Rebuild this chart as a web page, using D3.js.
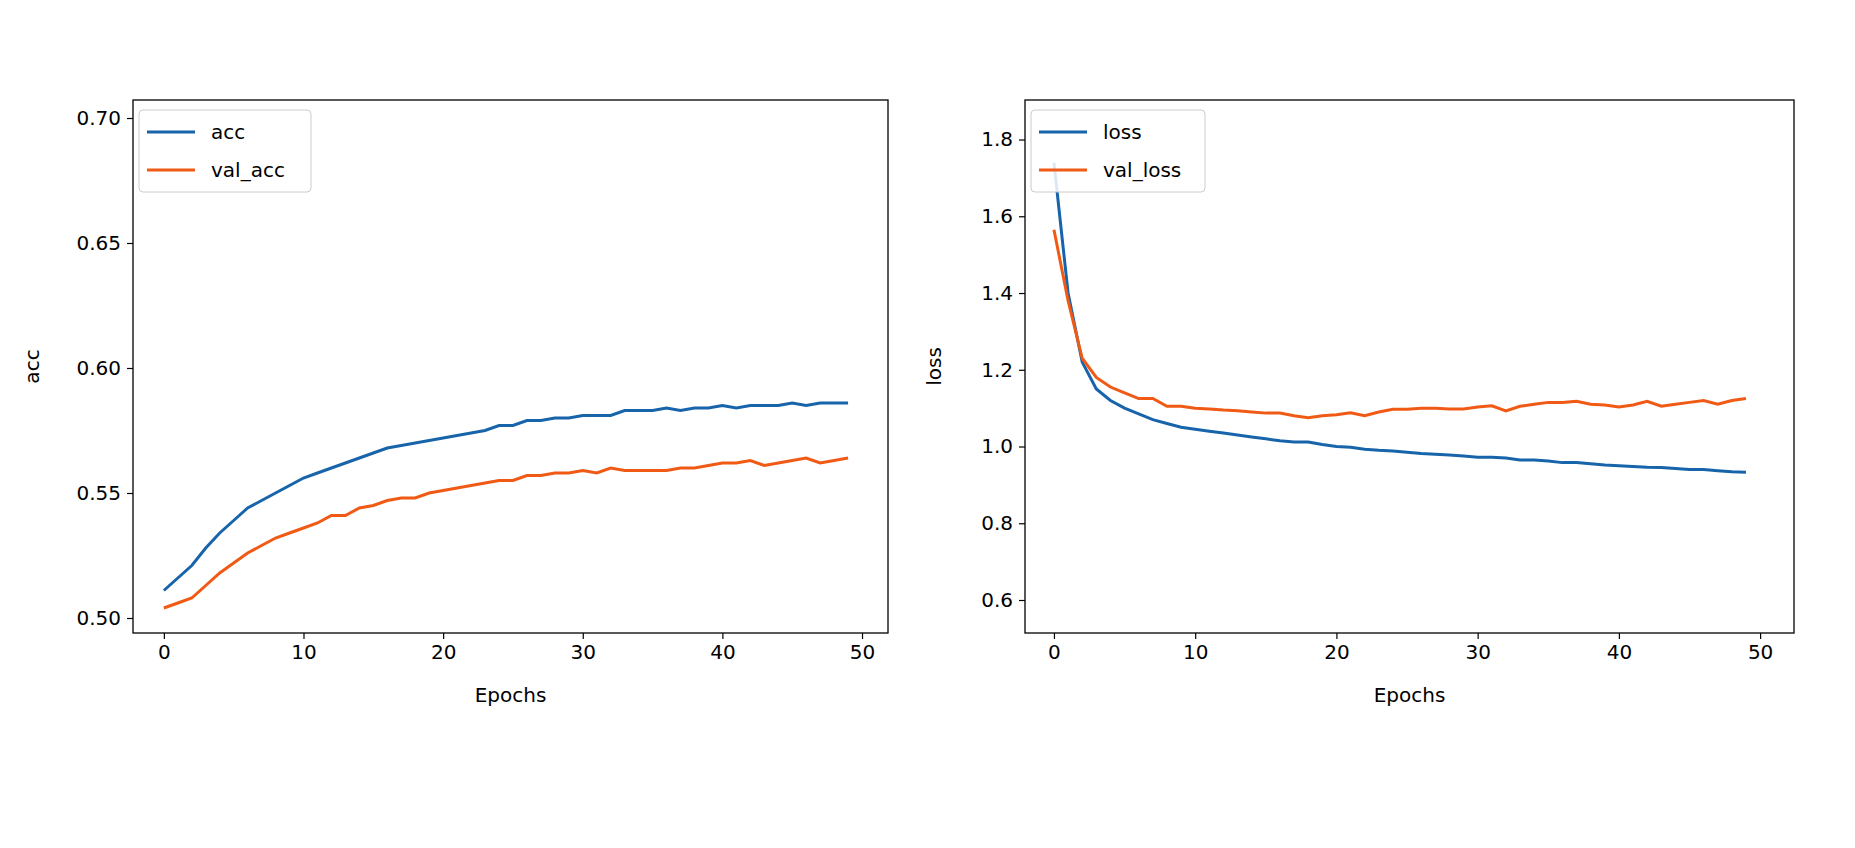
<!DOCTYPE html>
<html><head><meta charset="utf-8">
<script src="https://cdn.jsdelivr.net/npm/d3@7"></script>
<style>body{margin:0;background:#fff}text{font-family:"DejaVu Sans",sans-serif}</style>
</head><body><svg id="c" width="1855" height="848"></svg>
<script>
const epochs = d3.range(50);
const acc = [0.511,0.516,0.521,0.528,0.534,0.539,0.544,0.547,0.550,0.553,0.556,0.558,0.560,0.562,0.564,0.566,0.568,0.569,0.570,0.571,0.572,0.573,0.574,0.575,0.577,0.577,0.579,0.579,0.580,0.580,0.581,0.581,0.581,0.583,0.583,0.583,0.584,0.583,0.584,0.584,0.585,0.584,0.585,0.585,0.585,0.586,0.585,0.586,0.586,0.586];
const valAcc = [0.504,0.506,0.508,0.513,0.518,0.522,0.526,0.529,0.532,0.534,0.536,0.538,0.541,0.541,0.544,0.545,0.547,0.548,0.548,0.550,0.551,0.552,0.553,0.554,0.555,0.555,0.557,0.557,0.558,0.558,0.559,0.558,0.560,0.559,0.559,0.559,0.559,0.560,0.560,0.561,0.562,0.562,0.563,0.561,0.562,0.563,0.564,0.562,0.563,0.564];
const loss = [1.74,1.40,1.22,1.15,1.12,1.10,1.085,1.07,1.06,1.05,1.045,1.04,1.035,1.03,1.025,1.02,1.015,1.012,1.012,1.005,1.0,0.998,0.993,0.99,0.988,0.985,0.982,0.98,0.978,0.975,0.972,0.972,0.97,0.965,0.965,0.962,0.958,0.958,0.955,0.952,0.95,0.948,0.946,0.945,0.943,0.94,0.94,0.937,0.934,0.933];
const valLoss = [1.565,1.38,1.23,1.18,1.155,1.14,1.125,1.125,1.105,1.105,1.10,1.098,1.095,1.093,1.09,1.087,1.087,1.08,1.075,1.08,1.083,1.088,1.08,1.09,1.097,1.097,1.1,1.1,1.098,1.098,1.103,1.106,1.093,1.105,1.11,1.115,1.115,1.118,1.11,1.108,1.103,1.108,1.118,1.105,1.11,1.115,1.12,1.11,1.12,1.125];
const xTicks = [0,10,20,30,40,50];
const accTicks = [0.50,0.55,0.60,0.65,0.70];
const lossTicks = [0.6,0.8,1.0,1.2,1.4,1.6,1.8];

const svg = d3.select("#c");
const blue = "#1764ab", orange = "#f05a14";

function panel(o){
  const g = svg.append("g");
  const x = d3.scaleLinear().domain(o.xd).range([o.x0,o.x1]);
  const y = d3.scaleLinear().domain(o.yd).range([o.y1,o.y0]);
  const fs = "20px";
  const xa = g.append("g").attr("transform",`translate(0,${o.y1})`)
    .call(d3.axisBottom(x).tickValues(xTicks).tickFormat(d3.format("d")).tickSize(6).tickPadding(6));
  const ya = g.append("g").attr("transform",`translate(${o.x0},0)`)
    .call(d3.axisLeft(y).tickValues(o.ticks).tickFormat(o.fmt).tickSize(6).tickPadding(6));
  [xa,ya].forEach(a=>{a.select(".domain").remove();a.selectAll("text").style("font-size",fs).attr("fill","#000");a.selectAll("line").attr("stroke","#000").attr("stroke-width",1.2);});
  const line = d3.line().x((d,i)=>x(epochs[i])).y(d=>y(d));
  g.append("path").datum(o.s1).attr("d",line).attr("fill","none").attr("stroke",blue).attr("stroke-width",3);
  g.append("path").datum(o.s2).attr("d",line).attr("fill","none").attr("stroke",orange).attr("stroke-width",3);
  g.append("rect").attr("x",o.x0).attr("y",o.y0).attr("width",o.x1-o.x0).attr("height",o.y1-o.y0).attr("fill","none").attr("stroke","#000").attr("stroke-width",1.3);
  g.append("text").attr("x",(o.x0+o.x1)/2).attr("y",o.y1+69).attr("text-anchor","middle").style("font-size",fs).text("Epochs");
  g.append("text").attr("transform",`translate(${o.x0-o.ylo},${(o.y0+o.y1)/2}) rotate(-90)`).attr("text-anchor","middle").style("font-size",fs).text(o.ylab);
  const lx = o.x0+6, ly = 110;
  g.append("rect").attr("x",lx).attr("y",ly).attr("width",o.lw).attr("height",82).attr("rx",4).attr("fill","#fff").attr("fill-opacity",0.85).attr("stroke","#ccc");
  [[o.n1,blue],[o.n2,orange]].forEach((d,i)=>{
    const cy = ly+22+i*38;
    g.append("line").attr("x1",lx+8).attr("x2",lx+56).attr("y1",cy).attr("y2",cy).attr("stroke",d[1]).attr("stroke-width",3);
    g.append("text").attr("x",lx+72).attr("y",cy+7).style("font-size",fs).text(d[0]);
  });
}
panel({x0:133,x1:888,y0:100,y1:633,xd:[-2.21,51.86],yd:[0.494,0.7072],ticks:accTicks,fmt:d3.format(".2f"),s1:acc,s2:valAcc,n1:"acc",n2:"val_acc",ylab:"acc",ylo:94,lw:172});
panel({x0:1025,x1:1794,y0:100,y1:633,xd:[-2.05,52.4],yd:[0.514,1.903],ticks:lossTicks,fmt:d3.format(".1f"),s1:loss,s2:valLoss,n1:"loss",n2:"val_loss",ylab:"loss",ylo:84,lw:174});
</script></body></html>
